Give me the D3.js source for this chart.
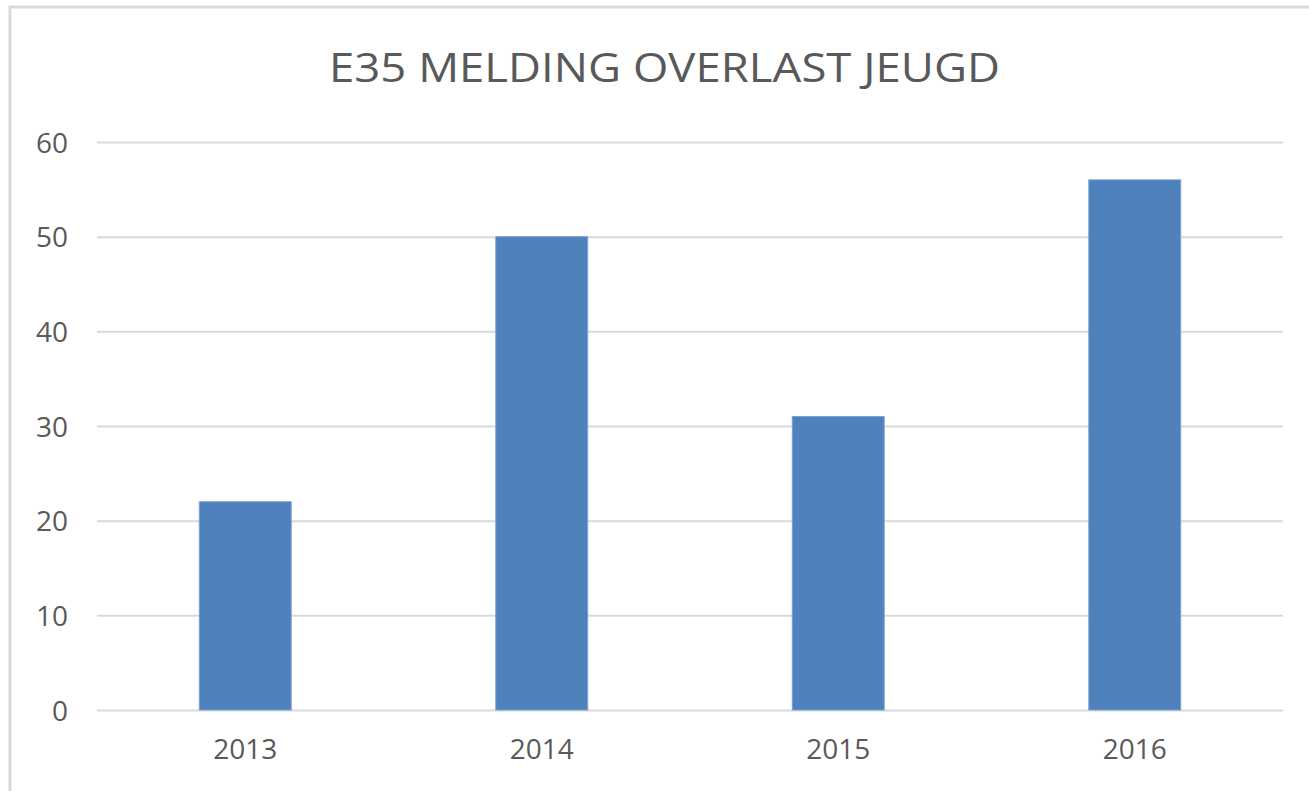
<!DOCTYPE html>
<html>
<head>
<meta charset="utf-8">
<script src="https://cdn.jsdelivr.net/npm/d3@7"></script>
<style>
  html, body { margin: 0; padding: 0; background: #fff; }
  svg { display: block; }
</style>
</head>
<body>
<script>
// data
const categories = ['2013', '2014', '2015', '2016'];
const values = [22, 50, 31, 56];
const yTicks = [0, 10, 20, 30, 40, 50, 60];
const title = 'E35 MELDING OVERLAST JEUGD';

const width = 1309, height = 791;
const textColor = '#595959';
const gridColor = '#d9d9d9';
const barColor = '#4f81bd';
const font = '"Open Sans", "Liberation Sans", sans-serif';

let svg = d3.select('body')
    .append('svg')
    .attr('width', width)
    .attr('height', height);

// outer chart border (runs off the right/bottom edge)
svg.append('rect')
    .attr('x', 10)
    .attr('y', 7)
    .attr('width', width + 20)
    .attr('height', height + 20)
    .attr('fill', '#fff')
    .attr('stroke', gridColor)
    .attr('stroke-width', 3);

let x = d3.scaleBand()
    .domain(categories)
    .range([97, 1283])
    .paddingInner(0.69)
    .paddingOuter(0.345);

let y = d3.scaleLinear()
    .domain([0, 60])
    .range([710, 142]);

// gridlines
let yAxis = d3.axisLeft(y)
    .tickValues(yTicks)
    .tickSize(-(1283 - 97))
    .tickPadding(29)
    .tickFormat(d3.format('d'));

let gy = svg.append('g')
    .attr('transform', 'translate(97,0)')
    .call(yAxis);
gy.select('.domain').remove();
gy.selectAll('.tick line')
    .attr('stroke', gridColor)
    .attr('stroke-width', 2);
gy.selectAll('.tick text')
    .attr('fill', textColor)
    .style('font-family', font)
    .style('font-size', '28px')
    .attr('dy', '0.36em');

// bars
svg.selectAll('.bar')
    .data(values)
    .enter()
    .append('rect')
    .attr('class', 'bar')
    .attr('x', (d, i) => x(categories[i]))
    .attr('y', d => y(d))
    .attr('width', x.bandwidth())
    .attr('height', d => y(0) - y(d))
    .attr('fill', barColor)
    .attr('stroke', '#7ba0cf')
    .attr('stroke-width', 1);

// x axis labels
let xAxis = d3.axisBottom(x)
    .tickSize(0)
    .tickPadding(29);

let gx = svg.append('g')
    .attr('transform', 'translate(0,710)')
    .call(xAxis);
gx.select('.domain').remove();
gx.selectAll('.tick text')
    .attr('fill', textColor)
    .style('font-family', font)
    .style('font-size', '28px');

// title
svg.append('text')
    .attr('x', 664.5)
    .attr('y', 82)
    .attr('text-anchor', 'middle')
    .attr('fill', textColor)
    .style('font-family', font)
    .style('font-size', '41px')
    .attr('textLength', 671)
    .attr('lengthAdjust', 'spacingAndGlyphs')
    .text(title);
</script>
</body>
</html>
